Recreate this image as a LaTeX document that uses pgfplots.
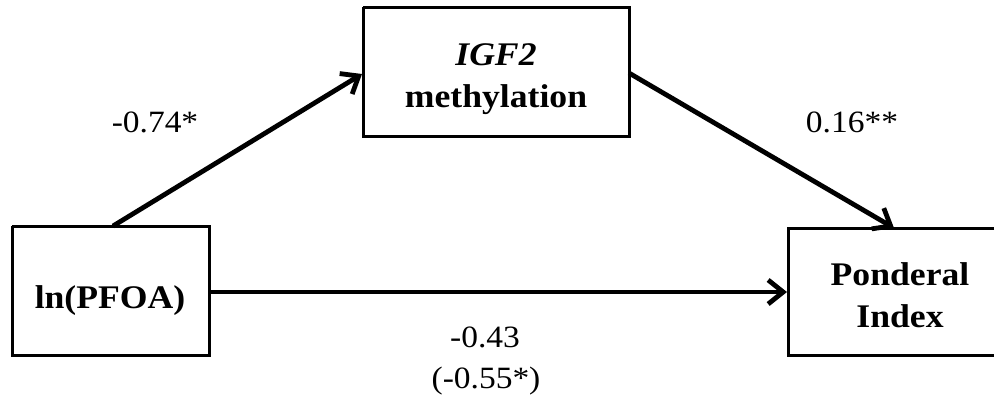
\documentclass[border=0pt]{standalone}
\usepackage{pgfplots}
\pgfplotsset{compat=1.18}
\usetikzlibrary{arrows.meta}
\usepackage{fontspec}
\setmainfont{Liberation Serif}[FakeStretch=1.08]
\begin{document}
\begin{tikzpicture}[
  box/.style={black, line width=1.5pt, line join=miter},
  arr/.style={black, line width=2.4pt, -{Straight Barb[length=7.5pt,width=12pt,line width=2.4pt]}},
  lab/.style={anchor=base, font=\fontsize{15.5}{18}\selectfont},
  bl/.style={anchor=base, font=\fontsize{16.5}{20}\selectfont\bfseries},
]
\begin{axis}[
  x=0.5pt, y=0.5pt, y dir=reverse,
  xmin=0, xmax=1002, ymin=0, ymax=397,
  hide axis, scale only axis, clip=true,
]
% invisible frame
\addplot[draw=none, forget plot] coordinates {(0,0) (1002,397)};
% boxes
\addplot[box] coordinates {(12,226) (209,226) (209,355) (12,355) (12,226)};
\addplot[box] coordinates {(363,7) (629,7) (629,136) (363,136) (363,7)};
\addplot[box] coordinates {(994,228) (788,228) (788,355) (994,355)};
% arrows
\addplot[arr] coordinates {(113,226) (362,74)};
\addplot[arr] coordinates {(629,73) (894,228)};
\addplot[arr] coordinates {(209,292) (787,292)};
% box texts
\node[bl] at (axis cs:110,308) {ln(PFOA)};
\node[bl] at (axis cs:496,65) {\itshape IGF2};
\node[bl] at (axis cs:496,107) {methylation};
\node[bl] at (axis cs:900,285) {Ponderal};
\node[bl] at (axis cs:900,327) {Index};
% coefficients
\node[lab] at (axis cs:155,132) {-0.74*};
\node[lab] at (axis cs:852,132) {0.16**};
\node[lab] at (axis cs:485,347) {-0.43};
\node[lab] at (axis cs:486,388) {(-0.55*)};
\end{axis}
\end{tikzpicture}
\end{document}
